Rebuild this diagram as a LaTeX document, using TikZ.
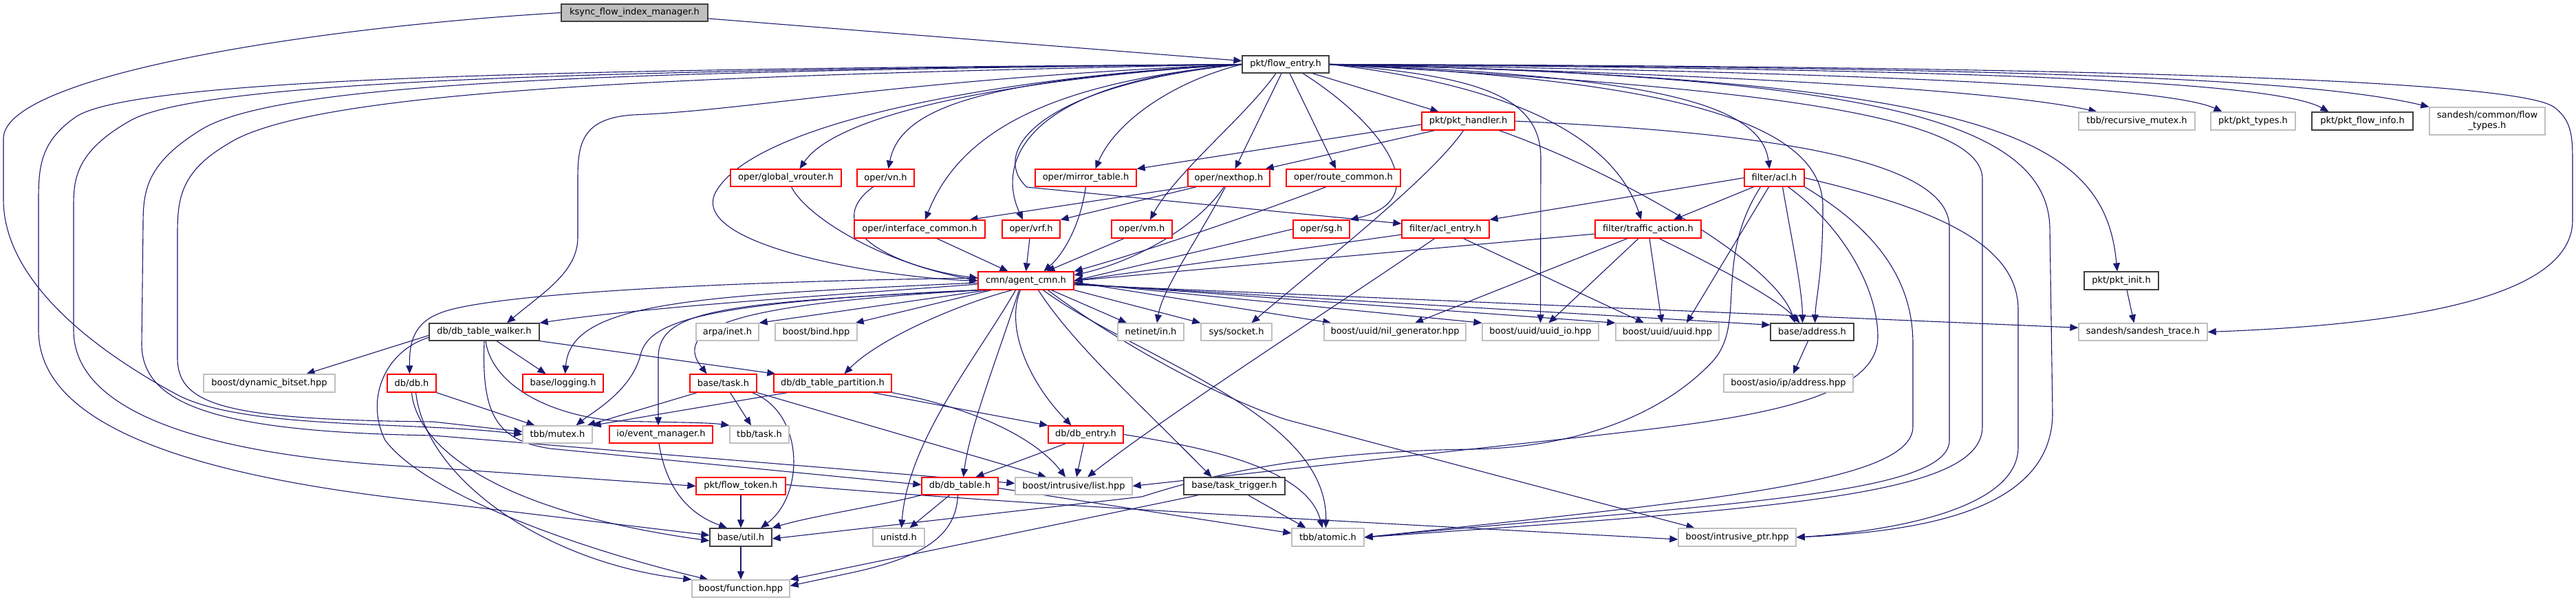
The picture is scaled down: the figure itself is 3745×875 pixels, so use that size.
\documentclass[tikz,border=0pt]{standalone}
\usepackage{fontspec}
\setmainfont{DejaVu Sans}
\usetikzlibrary{arrows.meta}
\definecolor{edgec}{HTML}{191970}
\definecolor{grayb}{HTML}{BFBFBF}
\definecolor{redb}{HTML}{FF0000}
\definecolor{blackb}{HTML}{404040}
\definecolor{ksyncf}{HTML}{BFBFBF}
\pgfdeclarelayer{bg}
\pgfsetlayers{bg,main}
\newcommand\nd[7]{\node[#6,minimum width={(#2-#1)*1pt},minimum height={(#4-#3)*1pt}] (#5) at ({(#1+#2)/2},{(#3+#4)/2}) {#7};}
\begin{document}
\begin{tikzpicture}[x=1pt,y=-1pt,font=\fontsize{13}{15}\selectfont,
 nbase/.style={rectangle,inner sep=0pt,line width=1.3pt,fill=white,text=black},
 rn/.style={nbase,draw=redb},
 gn/.style={nbase,draw=grayb},
 bn/.style={nbase,draw=blackb},
 kn/.style={nbase,draw=blackb,fill=ksyncf},
 e/.style={draw=edgec,line width=1.1pt,-{Triangle[length=12pt,width=10pt]}}]
\useasboundingbox (0,0) rectangle (3745,875);
% nodes
\nd{816}{1029}{6}{31}{ksync}{kn}{ksync\_flow\_index\_manager.h}
\nd{1806}{1932}{81}{106}{flow}{bn}{pkt/flow\_entry.h}
\nd{2067}{2202}{163}{189}{handler}{rn}{pkt/pkt\_handler.h}
\nd{3022}{3191}{163}{189}{recmutex}{gn}{tbb/recursive\_mutex.h}
\nd{3214}{3337}{163}{189}{pkttypes}{gn}{pkt/pkt\_types.h}
\nd{3361}{3508}{163}{189}{flowinfo}{bn}{pkt/pkt\_flow\_info.h}
\nd{3532}{3700}{156}{196}{flowtypes}{gn,align=center}{sandesh/common/flow\\\_types.h}
\nd{1062}{1223}{246}{271}{gvr}{rn}{oper/global\_vrouter.h}
\nd{1246}{1329}{246}{271}{vn}{rn}{oper/vn.h}
\nd{1505}{1652}{246}{271}{mirror}{rn}{oper/mirror\_table.h}
\nd{1727}{1846}{246}{271}{nexthop}{rn}{oper/nexthop.h}
\nd{1870}{2036}{246}{271}{routec}{rn}{oper/route\_common.h}
\nd{2536}{2623}{246}{271}{acl}{rn}{filter/acl.h}
\nd{1242}{1432}{320}{346}{ifc}{rn}{oper/interface\_common.h}
\nd{1457}{1541}{320}{346}{vrf}{rn}{oper/vrf.h}
\nd{1616}{1704}{320}{346}{vm}{rn}{oper/vm.h}
\nd{1880}{1962}{320}{346}{sg}{rn}{oper/sg.h}
\nd{2038}{2165}{320}{346}{aclentry}{rn}{filter/acl\_entry.h}
\nd{2319}{2473}{320}{346}{traffic}{rn}{filter/traffic\_action.h}
\nd{1422}{1561}{395}{421}{cmn}{rn}{cmn/agent\_cmn.h}
\nd{3030}{3138}{395}{421}{pktinit}{bn}{pkt/pkt\_init.h}
\nd{624}{784}{470}{495}{walker}{bn}{db/db\_table\_walker.h}
\nd{1012}{1103}{470}{495}{inet}{gn}{arpa/inet.h}
\nd{1127}{1246}{470}{495}{bind}{gn}{boost/bind.hpp}
\nd{1625}{1721}{470}{495}{netin}{gn}{netinet/in.h}
\nd{1746}{1849}{470}{495}{socket}{gn}{sys/socket.h}
\nd{1925}{2131}{470}{495}{nilgen}{gn}{boost/uuid/nil\_generator.hpp}
\nd{2155}{2324}{470}{495}{uuidio}{gn}{boost/uuid/uuid\_io.hpp}
\nd{2349}{2499}{470}{495}{uuid}{gn}{boost/uuid/uuid.hpp}
\nd{2574}{2695}{470}{495}{address}{bn}{base/address.h}
\nd{3022}{3209}{470}{495}{strace}{gn}{sandesh/sandesh\_trace.h}
\nd{296}{487}{544}{570}{bitset}{gn}{boost/dynamic\_bitset.hpp}
\nd{563}{634}{544}{570}{db}{rn}{db/db.h}
\nd{760}{877}{544}{570}{logging}{rn}{base/logging.h}
\nd{1003}{1100}{544}{570}{task}{rn}{base/task.h}
\nd{1125}{1296}{544}{570}{partition}{rn}{db/db\_table\_partition.h}
\nd{2506}{2694}{544}{570}{asio}{gn}{boost/asio/ip/address.hpp}
\nd{760}{861}{619}{644}{mutex}{gn}{tbb/mutex.h}
\nd{886}{1036}{619}{644}{evm}{rn}{io/event\_manager.h}
\nd{1061}{1147}{619}{644}{tbbtask}{gn}{tbb/task.h}
\nd{1524}{1633}{619}{644}{dbentry}{rn}{db/db\_entry.h}
\nd{1012}{1142}{694}{719}{ftoken}{rn}{pkt/flow\_token.h}
\nd{1340}{1451}{694}{719}{dbtable}{rn}{db/db\_table.h}
\nd{1476}{1646}{694}{719}{list}{gn}{boost/intrusive/list.hpp}
\nd{1721}{1868}{694}{719}{trigger}{bn}{base/task\_trigger.h}
\nd{1032}{1122}{768}{794}{util}{bn}{base/util.h}
\nd{1269}{1344}{768}{794}{unistd}{gn}{unistd.h}
\nd{1878}{1983}{768}{794}{atomic}{gn}{tbb/atomic.h}
\nd{2440}{2611}{768}{794}{iptr}{gn}{boost/intrusive\_ptr.hpp}
\nd{1006}{1148}{843}{868}{function}{gn}{boost/function.hpp}
\begin{pgfonlayer}{bg}
% ksync
\draw[e] (ksync) -- (flow);
\draw[e] (ksync.west) .. controls (450,40) and (10,110) .. (5,200) -- (5,290) .. controls (5,400) and (120,500) .. (260,575) .. controls (360,625) and (600,612) .. (mutex.west);
% flow entry, left bundle
\draw[e] (flow.west) .. controls (900,100) and (200,110) .. (110,170) .. controls (60,205) and (56,240) .. (56,290) -- (56,480) .. controls (56,610) and (250,690) .. (630,730) -- ([yshift=3pt]util.west);
\draw[e] (flow.west) .. controls (900,102) and (300,115) .. (190,175) .. controls (110,220) and (107,260) .. (107,300) -- (107,480) .. controls (107,600) and (300,665) .. (630,680) -- (ftoken.west);
\draw[e] (flow.west) .. controls (900,104) and (400,118) .. (290,190) .. controls (210,240) and (208,280) .. (208,330) -- (206,500) .. controls (206,590) and (320,628) .. (630,633) -- ([yshift=4pt]list.west);
\draw[e] (flow.west) .. controls (1000,110) and (450,130) .. (330,210) .. controls (262,250) and (258,290) .. (258,340) -- (258,520) .. controls (258,590) and (330,610) .. (630,613) -- ([yshift=4pt]mutex.west);
\draw[e] (flow.west) .. controls (1300,115) and (1100,160) .. (920,167) .. controls (845,172) and (840,210) .. (840,260) -- (840,345) .. controls (840,395) and (790,425) .. ([xshift=33pt]walker.north);
\draw[e] (flow.west) .. controls (1500,108) and (1100,170) .. (1040,280) .. controls (1000,360) and (1300,405) .. (cmn.west);
\draw[e] (flow.west) .. controls (1500,112) and (1220,160) .. ([xshift=20pt]gvr.north);
\draw[e] (flow.west) .. controls (1450,115) and (1310,150) .. ([xshift=4pt]vn.north);
\draw[e] (flow.west) .. controls (1550,118) and (1400,180) .. ([xshift=8pt]ifc.north);
\draw[e] (flow.west) .. controls (1480,122) and (1450,240) .. ([xshift=-12pt]vrf.north);
\draw[e] (flow.west) .. controls (1500,125) and (1440,225) .. (1493,272) -- ([yshift=8pt]aclentry.west);
\draw[e] (flow.west) .. controls (1700,120) and (1620,180) .. ([xshift=14pt]mirror.north);
\draw[e] ([xshift=-6pt]flow.south) -- ([xshift=9pt]nexthop.north);
\draw[e] ([xshift=-14pt]flow.south) .. controls (1810,170) and (1710,250) .. ([xshift=12pt]vm.north);
\draw[e] ([xshift=6pt]flow.south) -- ([xshift=-11pt]routec.north);
\draw[e] ([xshift=25pt]flow.south) .. controls (2010,180) and (2090,290) .. (sg.north east);
\draw[e] ([xshift=39pt]flow.south) -- ([xshift=-43pt]handler.north);
% flow entry, right
\draw[e] (flow.east) .. controls (2150,118) and (2340,180) .. ([xshift=-10pt]traffic.north);
\draw[e] (flow.east) .. controls (2150,110) and (2240,140) .. (2240,230) -- (uuidio.north);
\draw[e] (flow.east) .. controls (2400,110) and (2560,150) .. ([xshift=-7pt]acl.north);
\draw[e] (flow.east) .. controls (2400,115) and (2650,170) .. (2650,300) .. controls (2650,400) and (2640,430) .. ([xshift=4pt]address.north);
\draw[e] (flow.east) .. controls (2500,125) and (2882,160) .. (2882,260) -- (2882,620) .. controls (2882,720) and (2600,738) .. (atomic.east);
\draw[e] (flow.east) .. controls (2700,110) and (2975,170) .. (2980,330) -- (2984,600) .. controls (2984,740) and (2800,772) .. (iptr.east);
\draw[e] (flow.east) .. controls (2500,108) and (2900,130) .. ([xshift=-58pt]recmutex.north);
\draw[e] (flow.east) .. controls (2900,115) and (3060,200) .. ([xshift=-6pt]pktinit.north);
\draw[e] (flow.east) .. controls (2700,105) and (3150,125) .. ([xshift=-45pt]pkttypes.north);
\draw[e] (flow.east) .. controls (2800,100) and (3300,115) .. ([xshift=-49pt]flowinfo.north);
\draw[e] (flow.east) .. controls (2900,98) and (3350,112) .. (flowtypes.north west);
\draw[e] (flow.east) .. controls (3000,96) and (3650,115) .. (3712,155) .. controls (3740,175) and (3740,200) .. (3740,240) -- (3740,320) .. controls (3740,420) and (3550,470) .. (strace.east);
% pkt handler
\draw[e] ([yshift=-5pt]handler.west) -- (mirror.north east);
\draw[e] ([xshift=-49pt]handler.south) -- ([xshift=-7pt]nexthop.north east);
\draw[e] ([xshift=-7pt]handler.south) .. controls (2080,260) and (1900,400) .. ([xshift=22pt]socket.north);
\draw[e] ([xshift=45pt]handler.south) .. controls (2350,250) and (2580,380) .. ([xshift=-25pt]address.north);
\draw[e] (handler.east) .. controls (2500,190) and (2834,220) .. (2834,330) -- (2834,640) .. controls (2834,720) and (2500,732) .. (atomic.east);
% acl
\draw[e] (acl.west) -- (aclentry.north east);
\draw[e] ([xshift=-30pt]acl.south) -- ([xshift=37pt]traffic.north);
\draw[e] ([xshift=-8pt]acl.south) -- ([xshift=28pt]uuid.north);
\draw[e] ([xshift=12pt]acl.south) .. controls (2605,350) and (2620,420) .. ([xshift=-14pt]address.north);
\draw[e] ([xshift=-20pt]acl.south) .. controls (2490,380) and (2540,470) .. (2490,525) .. controls (2420,600) and (2300,650) .. (2140,653) .. controls (1900,656) and (1760,690) .. (1660,722) -- ([yshift=-2pt]util.east);
\draw[e] ([xshift=20pt]acl.south) .. controls (2680,330) and (2730,420) .. (2730,490) .. controls (2730,590) and (2500,612) .. (2320,633) -- (list.east);
\draw[e] (acl.south east) .. controls (2720,330) and (2781,400) .. (2781,500) -- (2781,620) .. controls (2781,700) and (2500,726) .. (atomic.east);
\draw[e] (acl.east) .. controls (2800,300) and (2934,350) .. (2934,450) -- (2934,650) .. controls (2934,740) and (2750,772) .. (iptr.east);
% traffic action
\draw[e] ([yshift=-7pt]traffic.west) -- (cmn.east);
\draw[e] ([xshift=-30pt]traffic.south) -- ([xshift=29pt]nilgen.north);
\draw[e] ([xshift=-14pt]traffic.south) -- ([xshift=12pt]uuidio.north);
\draw[e] ([xshift=2pt]traffic.south) -- ([xshift=-8pt]uuid.north);
\draw[e] ([xshift=16pt]traffic.south) .. controls (2480,380) and (2580,430) .. ([xshift=-18pt]address.north);
% acl entry
\draw[e] ([yshift=-8pt]aclentry.west) -- (cmn.east);
\draw[e] ([xshift=-16pt]aclentry.south) .. controls (1950,440) and (1700,600) .. ([xshift=20pt]list.north);
\draw[e] ([xshift=26pt]aclentry.south) -- ([xshift=-34pt]uuid.north);
% oper
\draw[e] ([xshift=-25pt]routec.south) .. controls (1800,320) and (1650,370) .. (cmn.north east);
\draw[e] (sg.west) -- (cmn.east);
\draw[e] (mirror.south) .. controls (1570,330) and (1545,370) .. ([xshift=26pt]cmn.north);
\draw[e] (nexthop.south west) -- ([xshift=-23pt]ifc.north east);
\draw[e] ([xshift=13pt]nexthop.south west) -- (vrf.north east);
\draw[e] ([xshift=-7pt]nexthop.south) .. controls (1740,330) and (1650,380) .. ([yshift=8pt]cmn.east);
\draw[e] ([xshift=-5pt]nexthop.south) .. controls (1740,350) and (1690,420) .. ([xshift=9pt]netin.north);
\draw[e] ([xshift=25pt]ifc.south) -- ([xshift=-26pt]cmn.north);
\draw[e] ([xshift=-2pt]vrf.south) -- (cmn.north);
\draw[e] ([xshift=-26pt]vm.south) -- ([xshift=30pt]cmn.north);
\draw[e] ([xshift=8pt]gvr.south) .. controls (1175,320) and (1300,390) .. ([yshift=4pt]cmn.west);
\draw[e] ([xshift=-18pt]vn.south) .. controls (1215,310) and (1230,370) .. (cmn.west);
\draw[e] ([xshift=8pt]pktinit.south) -- ([xshift=-13pt]strace.north);
\draw[e] ([xshift=-6pt]address.south) -- ([xshift=7pt]asio.north);
% agent cmn
\draw[e] ([yshift=-5pt]cmn.west) .. controls (1200,430) and (950,445) .. (walker.north east);
\draw[e] ([yshift=-3pt]cmn.west) .. controls (1000,430) and (830,440) .. ([xshift=3pt]logging.north);
\draw[e] (cmn.south west) .. controls (1000,440) and (940,470) .. (930,520) .. controls (915,570) and (860,600) .. ([xshift=27pt]mutex.north);
\draw[e] ([xshift=3pt]cmn.south west) .. controls (1050,440) and (957,450) .. (957,520) -- ([xshift=-4pt]evm.north);
\draw[e] ([xshift=6pt]cmn.south west) .. controls (1100,440) and (970,470) .. ([xshift=-24pt]task.north);
\draw[e] ([xshift=15pt]cmn.south west) -- (inet.north east);
\draw[e] ([xshift=20pt]cmn.south west) -- ([xshift=-3pt]bind.north east);
\draw[e] ([xshift=-20pt]cmn.south) .. controls (1400,440) and (1280,490) .. ([xshift=17pt]partition.north);
\draw[e] ([yshift=4pt]cmn.west) .. controls (1000,410) and (700,430) .. (640,455) .. controls (600,470) and (595,500) .. ([xshift=-3pt]db.north);
\draw[e] ([xshift=-15pt]cmn.south) .. controls (1420,520) and (1320,640) .. ([xshift=4pt]unistd.north);
\draw[e] ([xshift=-10pt]cmn.south) .. controls (1450,520) and (1410,620) .. ([xshift=5pt]dbtable.north);
\draw[e] ([xshift=-8pt]cmn.south) .. controls (1460,480) and (1500,560) .. ([xshift=-21pt]dbentry.north);
\draw[e] ([xshift=18pt]cmn.south) .. controls (1560,500) and (1650,580) .. ([xshift=-33pt]trigger.north);
\draw[e] ([xshift=37pt]cmn.south) -- ([xshift=-35pt]netin.north);
\draw[e] (cmn.south east) -- (socket.north west);
\draw[e] ([yshift=-2pt]cmn.east) -- ([xshift=11pt]nilgen.north west);
\draw[e] ([yshift=-3pt]cmn.east) -- (uuidio.north west);
\draw[e] ([yshift=-4pt]cmn.east) -- (uuid.north west);
\draw[e] ([yshift=-5pt]cmn.east) -- ([yshift=-3pt]address.north west);
\draw[e] ([yshift=-6pt]cmn.east) -- ([yshift=-7pt]strace.north west);
\draw[e] ([xshift=25pt]cmn.south) .. controls (1650,520) and (1930,600) .. ([xshift=-3pt]atomic.north);
\draw[e] ([xshift=32pt]cmn.south) .. controls (1600,480) and (1750,570) .. (1870,610) -- ([xshift=-62pt]iptr.north);
% walker
\draw[e] ([yshift=-5pt]walker.west) -- ([xshift=54pt]bitset.north);
\draw[e] ([xshift=18pt]walker.south) -- ([xshift=-25pt]logging.north);
\draw[e] (walker.south east) -- ([xshift=3pt]partition.north west);
\draw[e] ([xshift=2pt]walker.south) .. controls (715,560) and (800,605) .. (900,612) .. controls (980,614) and (1030,614) .. (tbbtask.north west);
\draw[e] (walker.south) .. controls (700,600) and (720,640) .. (800,652) -- ([yshift=2pt]dbtable.west);
\draw[e] ([yshift=-8pt]walker.west) .. controls (560,510) and (530,580) .. (560,640) .. controls (620,720) and (850,800) .. ([xshift=24pt]function.north west);
% db
\draw[e] (db.south east) -- ([xshift=-33pt]mutex.north);
\draw[e] (db.south) .. controls (605,640) and (700,740) .. ([yshift=-5pt]util.west);
\draw[e] ([xshift=6pt]db.south) .. controls (620,700) and (800,820) .. (function.north west);
% task
\draw[e] ([xshift=-38pt]task.south) -- ([xshift=43pt]mutex.north);
\draw[e] ([xshift=10pt]task.south) -- ([xshift=-12pt]tbbtask.north);
\draw[e] ([xshift=42pt]task.south) .. controls (1170,600) and (1170,720) .. ([xshift=29pt]util.north);
\draw[e] (task.south east) -- ([xshift=-40pt]list.north);
% partition
\draw[e] ([xshift=-66pt]partition.south) -- (mutex.north east);
\draw[e] ([xshift=58pt]partition.south) -- (dbentry.north west);
\draw[e] (partition.south east) .. controls (1400,590) and (1500,630) .. ([xshift=-12pt]list.north);
% lower
\draw[e] ([xshift=-3pt]evm.south) .. controls (970,720) and (1010,750) .. ([xshift=-20pt]util.north);
\draw[e] (ftoken.south) -- (util.north);
\draw[e] ([yshift=2pt]ftoken.east) .. controls (1500,735) and (2000,760) .. ([yshift=-3pt]iptr.west);
\draw[e] ([xshift=-29pt]dbentry.south) -- ([xshift=23pt]dbtable.north);
\draw[e] ([xshift=-3pt]dbentry.south) -- ([xshift=4pt]list.north);
\draw[e] (dbentry.east) .. controls (1750,650) and (1900,680) .. ([xshift=-8pt]atomic.north);
\draw[e] ([xshift=-15pt]dbtable.south) -- ([xshift=16pt]unistd.north);
\draw[e] (dbtable.south west) .. controls (1280,735) and (1180,750) .. (util.north east);
\draw[e] ([xshift=-3pt]dbtable.south) .. controls (1390,780) and (1340,810) .. (1240,832) -- ([yshift=4pt]function.east);
\draw[e] ([yshift=-3pt]dbtable.east) -- ([yshift=6pt]atomic.west);
\draw[e] ([xshift=-52pt]trigger.south) -- (function.north east);
\draw[e] ([xshift=20pt]trigger.south) -- ([xshift=-32pt]atomic.north);
\draw[e] (util.south) -- (function.north);
\end{pgfonlayer}
\end{tikzpicture}
\end{document}
